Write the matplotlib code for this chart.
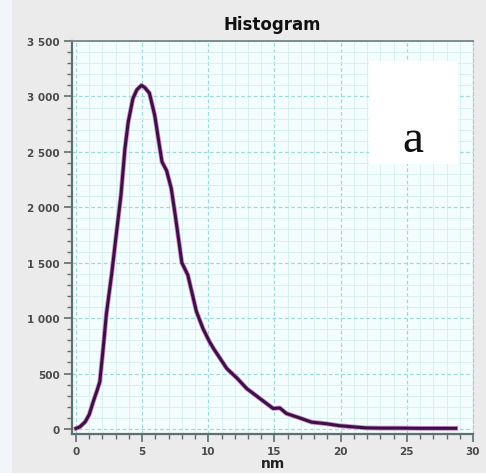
import matplotlib
matplotlib.use('Agg')
import matplotlib.pyplot as plt
import matplotlib.patheffects as pe
from matplotlib.ticker import MultipleLocator, FuncFormatter
from matplotlib.patches import Rectangle

# size distribution
size_nm = [0.0, 0.3, 0.7, 1.0, 1.3, 1.6, 1.8, 2.05, 2.3, 2.7, 3.05, 3.4, 3.7, 3.95,
           4.3, 4.6, 4.95, 5.2, 5.55, 5.95, 6.3, 6.5, 6.85, 7.2, 7.5, 8.0, 8.45, 9.1,
           9.6, 10.1, 10.4, 11.4, 12.2, 12.9, 13.9, 14.9, 15.4, 15.9, 16.9, 17.8, 18.9,
           19.9, 20.7, 21.9, 23.0, 24.4, 26.0, 27.5, 28.7]
counts = [5, 20, 65, 130, 245, 350, 425, 720, 1040, 1400, 1760, 2110, 2530, 2770,
          2980, 3060, 3100, 3080, 3030, 2830, 2560, 2410, 2330, 2170, 1930, 1500, 1390,
          1060, 905, 785, 725, 545, 455, 365, 275, 185, 190, 140, 100, 62, 48, 30, 22,
          10, 8, 8, 6, 6, 6]

title = 'Histogram'
xlabel = 'nm'
panel = 'a'

fig = plt.figure(figsize=(4.86, 4.77), dpi=100, facecolor='#ebebeb')
fig.patches.append(Rectangle((0, 0), 12 / 486, 1, transform=fig.transFigure,
                             facecolor='#f2f5f9', edgecolor='none', zorder=-1))
fig.patches.append(Rectangle((0, 0), 1, 3 / 477, transform=fig.transFigure,
                             facecolor='#ffffff', edgecolor='none', zorder=-1))
ax = fig.add_axes([72 / 486, 1 - 435 / 477, 401 / 486, 393 / 477])
ax.set_facecolor('#f4fdfd')

ax.plot(size_nm, counts, color='#3a1142', lw=2.2, solid_joinstyle='round', zorder=3,
        path_effects=[pe.withStroke(linewidth=3.4, foreground='#c98ac9')])

# small margin so the axes lines sit just outside zero, like the original
ax.set_xlim(-0.3, 30)
ax.set_ylim(-45, 3500)
ax.xaxis.set_major_locator(MultipleLocator(5))
ax.xaxis.set_minor_locator(MultipleLocator(1))
ax.yaxis.set_major_locator(MultipleLocator(500))
ax.yaxis.set_minor_locator(MultipleLocator(100))
ax.yaxis.set_major_formatter(FuncFormatter(lambda v, p: f'{int(v):,}'.replace(',', ' ')))

ax.grid(which='major', color='#9fd8d8', lw=0.9, ls=(0, (3, 2)))
ax.grid(which='minor', color='#d6eeee', lw=0.6)
ax.set_axisbelow(True)

for s in ['left', 'bottom']:
    ax.spines[s].set_color('#5f6f6f')
    ax.spines[s].set_linewidth(1.6)
ax.spines['top'].set_color('#7d8c8c')
ax.spines['top'].set_linewidth(1.4)
ax.spines['right'].set_color('#b8c4c4')
ax.spines['right'].set_linestyle((0, (3, 2)))

ax.tick_params(which='major', length=6, width=1.2, color='#5f6f6f',
               labelsize=7.5, labelcolor='#4a4a4a', pad=3)
ax.tick_params(which='minor', length=3.5, width=1.0, color='#5f6f6f')
for lab in ax.get_xticklabels() + ax.get_yticklabels():
    lab.set_fontweight('bold')

ax.set_xlabel(xlabel, fontsize=10, fontweight='bold', color='#222222', labelpad=0)
ax.set_title(title, fontsize=12, fontweight='bold', color='#111111', pad=9)

ax.add_patch(Rectangle((0.741, 0.686), 0.222, 0.262, transform=ax.transAxes,
                       facecolor='white', edgecolor='none', zorder=4))
ax.text(0.85, 0.72, panel, transform=ax.transAxes, ha='center', va='baseline',
        fontsize=34, family='Liberation Serif', color='#111111', zorder=5)

fig.savefig('out.png', dpi=100, facecolor=fig.get_facecolor())
